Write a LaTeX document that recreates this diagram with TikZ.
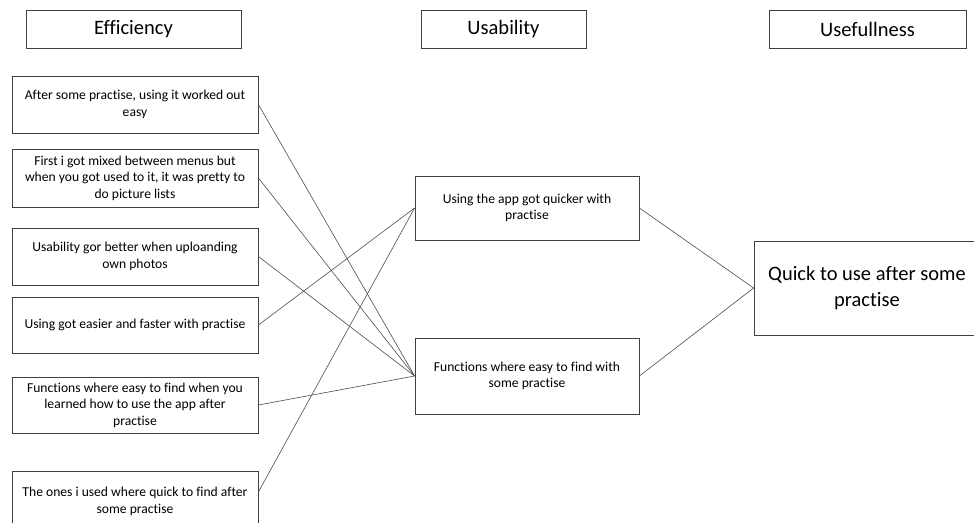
\documentclass[tikz,border=0pt]{standalone}
\usepackage{fontspec}
\setmainfont{Carlito}[Ligatures=NoCommon]
\begin{document}
\begin{tikzpicture}[x=1pt,y=-1pt,
  box/.style={draw=black!75, line width=0.8pt, inner sep=2pt, align=center},
  head/.style={box, font=\fontsize{20.5}{22}\selectfont},
  item/.style={box, font=\fontsize{13.6}{16.5}\selectfont},
  big/.style={box, font=\fontsize{20.5}{26}\selectfont},
  link/.style={draw=black!70, line width=0.6pt}]
\clip (0,0) rectangle (974,522);
\fill[white] (0,0) rectangle (974,522);

% column headings
\node[head, minimum width=215pt, minimum height=38pt] (h1) at (133.5,29) {Efficiency};
\node[head, minimum width=165pt, minimum height=38pt] (h2) at (503.5,29) {Usability};
\node[head, minimum width=197pt, minimum height=38pt] (h3) at (867.5,29) {Usefullness};

% efficiency statements
\node[item, minimum width=246pt, minimum height=57pt] (e1) at (135,104.5)
  {After some practise, using it worked out\\easy};
\node[item, minimum width=246pt, minimum height=58pt] (e2) at (135,178)
  {First i got mixed between menus but\\when you got used to it, it was pretty to\\do picture lists};
\node[item, minimum width=246pt, minimum height=57pt] (e3) at (135,256.5)
  {Usability gor better when uploanding\\own photos};
\node[item, minimum width=246pt, minimum height=56pt] (e4) at (135,325)
  {Using got easier and faster with practise};
\node[item, minimum width=246pt, minimum height=56pt] (e5) at (135,405)
  {Functions where easy to find when you\\learned how to use the app after\\practise};
\node[item, minimum width=246pt, minimum height=60pt, anchor=north] (e6) at (135,471)
  {The ones i used where quick to find after\\some practise};

% usability statements
\node[item, minimum width=224pt, minimum height=64pt] (u1) at (527,208)
  {Using the app got quicker with\\practise};
\node[item, minimum width=224pt, minimum height=76pt] (u2) at (527,376)
  {Functions where easy to find with\\some practise};

% usefulness statement
\node[big, minimum width=226pt, minimum height=94pt] (q) at (867,288)
  {Quick to use after some\\practise};

% connectors
\draw[link] (e1.east) -- (u2.west);
\draw[link] (e2.east) -- (u2.west);
\draw[link] (e3.east) -- (u2.west);
\draw[link] (e4.east) -- (u1.west);
\draw[link] (e5.east) -- (u2.west);
\draw[link] ([yshift=-21pt]e6.north east) -- (u1.west);
\draw[link] (u1.east) -- (q.west);
\draw[link] (u2.east) -- (q.west);
\end{tikzpicture}
\end{document}
